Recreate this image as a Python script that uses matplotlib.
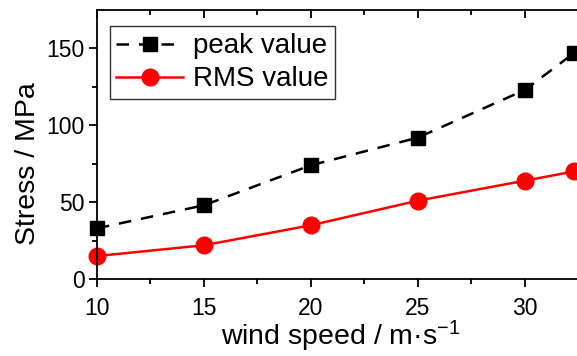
import matplotlib
matplotlib.use("Agg")
import matplotlib.pyplot as plt

plt.rcParams.update({
    "font.family": ["Liberation Sans", "DejaVu Sans"],
    "mathtext.fontset": "custom",
    "mathtext.rm": "Liberation Sans",
    "mathtext.it": "Liberation Sans:italic",
    "mathtext.default": "regular",
})

# ── data ──────────────────────────────────────────
wind_speed = [10, 15, 20, 25, 30, 32.3]
peak_value = [33, 48, 74, 92, 123, 147]
rms_value = [15, 22, 35, 51, 64, 70]

fig = plt.figure(figsize=(5.77, 3.56), dpi=100)
# axes run past the right edge of the figure (cropped like the original)
ax = fig.add_axes([0.168, 0.216, 1.095 - 0.168, 0.756])

ax.plot(wind_speed, peak_value, color="black", linestyle="--", dashes=(5, 4),
        linewidth=1.8, marker="s", markersize=10, label="peak value", clip_on=False)
ax.plot(wind_speed, rms_value, color="red", linestyle="-", linewidth=1.8,
        marker="o", markersize=12, label="RMS value", clip_on=False)

ax.set_xlim(10, 35)
ax.set_ylim(0, 175)
ax.set_xticks([10, 15, 20, 25, 30])
ax.set_xticks([12.5, 17.5, 22.5, 27.5, 32.5], minor=True)
ax.set_yticks([0, 50, 100, 150])
ax.set_yticks([25, 75, 125], minor=True)

ax.tick_params(axis="both", which="major", direction="out", length=6, width=1.3,
               labelsize=16.5, pad=3)
ax.tick_params(axis="x", which="major", pad=7)
ax.tick_params(axis="both", which="minor", direction="out", length=3.5, width=1.3)
ax.tick_params(axis="x", which="both", top=True, labeltop=False)
for t in ax.xaxis.get_ticklines(minor=False)[1::2] + ax.xaxis.get_ticklines(minor=True)[1::2]:
    t.set_marker(3)  # top ticks point into the plot

for s in ax.spines.values():
    s.set_linewidth(1.3)

ax.set_xlabel("wind speed / m\u00b7s$^{-1}$", fontsize=20.5)
ax.set_ylabel("Stress / MPa", fontsize=20.5)
ax.xaxis.set_label_coords(0.456, -0.148)
ax.yaxis.set_label_coords(-0.105, 0.43)

leg = ax.legend(loc="upper left", bbox_to_anchor=(0.008, 0.97), fontsize=20,
                frameon=True, fancybox=False, edgecolor="black", handlelength=2.4,
                borderpad=0.25, labelspacing=0.25, handletextpad=0.35, borderaxespad=0.3)
leg.get_frame().set_linewidth(1.0)

fig.savefig("out.png", dpi=100)
